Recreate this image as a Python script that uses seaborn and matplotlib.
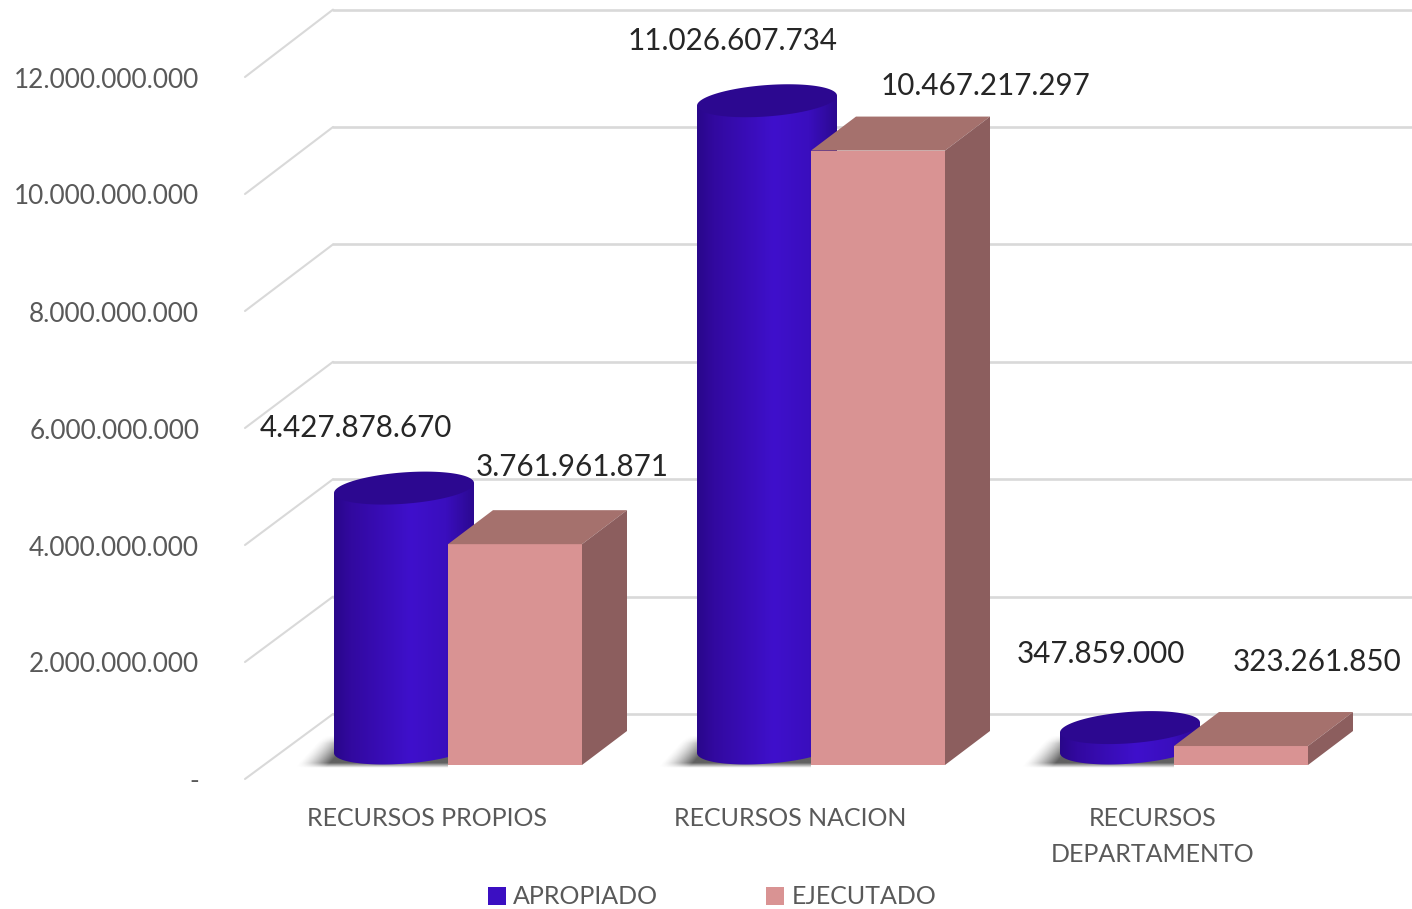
import numpy as np
import pandas as pd
import matplotlib
matplotlib.use("Agg")
import matplotlib.pyplot as plt
from matplotlib.colors import LinearSegmentedColormap
from matplotlib.patches import Polygon
import seaborn as sns

categories = ["RECURSOS PROPIOS", "RECURSOS NACION", "RECURSOS\nDEPARTAMENTO"]
apropiado = [4427878670, 11026607734, 347859000]
ejecutado = [3761961871, 10467217297, 323261850]
tick_values = [0, 2000000000, 4000000000, 6000000000, 8000000000, 10000000000, 12000000000]

# label offsets in pixels from the top of each bar
apropiado_off = [(-48, 60), (-34, 60), (-29, 74)]
ejecutado_off = [(57, 77), (107, 65), (76, 84)]

BLUE = "#3B0FC2"
PINK = "#D99393"
PINK_TOP = "#A5716D"
PINK_SIDE = "#8C5E5E"
GRID = "#D9D9D9"

sns.set_style("white")
plt.rcParams["font.family"] = ["Lato", "DejaVu Sans"]


def fmt(v):
    return f"{v:,}".replace(",", ".")


# pixel scales of the main axes
PX_X = 1 / 363
PX_Y = 1e9 / 58.7
DEPTH_X, DEPTH_Y = 45 * PX_X, 34 * PX_Y

fig = plt.figure(figsize=(14.12, 9.09), dpi=100)
ax = fig.add_axes([0, 109 / 909, 1, 800 / 909])

df = pd.DataFrame({
    "cat": categories * 2,
    "val": apropiado + ejecutado,
    "serie": ["APROPIADO"] * 3 + ["EJECUTADO"] * 3,
})
sns.barplot(data=df, x="cat", y="val", hue="serie", palette=[BLUE, PINK],
            width=222 / 363, gap=0, saturation=1, linewidth=0, ax=ax, zorder=5)

x0_lim, x1_lim = -459.5 * PX_X, (1412 - 459.5) * PX_X
y0_lim, y1_lim = -35 * PX_Y, 765 * PX_Y

# back wall and left wall
for v in tick_values:
    ax.plot([(333 - 459.5) * PX_X, x1_lim], [v + 51 * PX_Y] * 2, color=GRID, lw=1.9, zorder=1)
    ax.plot([(245 - 459.5) * PX_X, (333 - 459.5) * PX_X],
            [v * 58.5 / 58.7 - 14 * PX_Y, v + 51 * PX_Y], color=GRID, lw=1.5, zorder=1,
            clip_on=False)

cyl_cmap = LinearSegmentedColormap.from_list(
    "cyl", [(0, "#29078A"), (0.12, "#32099F"), (0.55, "#3F10CC"), (0.8, "#3A0EBE"), (1, "#2B0990")])

# soft shadow on the floor, u and v are pixels from the cylinder's left foot
shadow_u = np.linspace(-45, 114, 160)
shadow_v = np.linspace(-30, 3, 60)
uu, vv = np.meshgrid(shadow_u, shadow_v)
left_edge = -38 - vv * 0.9
shadow_a = np.clip((uu - left_edge) / 32, 0, 1) ** 1.5 * np.clip((3 - vv) / 5, 0, 1) * np.clip((vv + 30) / 8, 0, 1) * 0.8
shadow_rgba = np.zeros(uu.shape + (4,))
shadow_rgba[..., :3] = 0.22
shadow_rgba[..., 3] = shadow_a

# cylinders, drawn from the seaborn bars
t = np.linspace(0, 2 * np.pi, 200)
for bar, val, off in zip(ax.containers[0], apropiado, apropiado_off):
    cx = bar.get_x() + bar.get_width() / 2
    bar.set_alpha(0)
    rx = 70 * PX_X
    base = 17 * PX_Y
    top = base + val

    x_ring = cx + rx * np.cos(t)
    y_ring = (5 * np.cos(t) - 15.7 * np.sin(t)) * PX_Y
    lower = np.sin(t) >= 0

    body_x = np.r_[cx - rx, x_ring[lower][::-1], cx + rx]
    body_y = np.r_[top - 5 * PX_Y, base + y_ring[lower][::-1], top + 5 * PX_Y]

    im = ax.imshow(np.linspace(0, 1, 256).reshape(1, -1), cmap=cyl_cmap, aspect="auto",
                   extent=[cx - rx, cx + rx, -5 * PX_Y, top + 10 * PX_Y], zorder=3,
                   interpolation="bilinear")
    im.set_clip_path(Polygon(np.c_[body_x, body_y], closed=True, transform=ax.transData))
    ax.fill(x_ring, top + y_ring, color="#2C0890", lw=0, zorder=3.5)

    left = cx - rx
    ax.imshow(shadow_rgba, aspect="auto", origin="upper", zorder=2,
              extent=[left + shadow_u[0] * PX_X, left + shadow_u[-1] * PX_X,
                      -shadow_v[-1] * PX_Y, -shadow_v[0] * PX_Y])

    ax.annotate(fmt(val), (cx, top), xytext=off, textcoords="offset pixels",
                ha="center", va="center", fontsize=21.3, color="#262626", zorder=8)

# resize the boxes and add their top and side
for bar, val, off in zip(ax.containers[1], ejecutado, ejecutado_off):
    cx = bar.get_x() + bar.get_width() / 2
    w = 134 * PX_X
    bar.set_x(cx - w / 2)
    bar.set_width(w)
    l, r = cx - w / 2, cx + w / 2
    ax.add_patch(Polygon([(l, val), (l + DEPTH_X, val + DEPTH_Y), (r + DEPTH_X, val + DEPTH_Y), (r, val)],
                         closed=True, fc=PINK_TOP, lw=0, zorder=5))
    ax.add_patch(Polygon([(r, 0), (r + DEPTH_X, DEPTH_Y), (r + DEPTH_X, val + DEPTH_Y), (r, val)],
                         closed=True, fc=PINK_SIDE, lw=0, zorder=5))
    ax.annotate(fmt(val), (cx, val), xytext=off, textcoords="offset pixels",
                ha="center", va="center", fontsize=21.3, color="#262626", zorder=8)

ax.set_xlim(x0_lim, x1_lim)
ax.set_ylim(y0_lim, y1_lim)
ax.set_xlabel("")
ax.set_ylabel("")
ax.set_yticks([])
ax.set_xticks(np.arange(3) - 32.5 * PX_X)
ax.set_xticklabels(categories, fontsize=18, color="#595959", linespacing=1.7)
ax.tick_params(axis="x", length=0, pad=5)
sns.despine(ax=ax, left=True, bottom=True, top=True, right=True)

leg = ax.legend(loc="center", bbox_to_anchor=(712 / 1412, -97 / 800), ncol=2, frameon=False,
                fontsize=18, handlelength=0.72, handleheight=0.72, handletextpad=0.3,
                columnspacing=4.3, labelcolor="#595959", borderpad=0)

# value axis on the front edge of the left wall
ax_left = fig.add_axes([245 / 1412, (909 - 779.5) / 909, 0.01, 702 / 909], frameon=False)
ax_left.set_ylim(0, 12e9)
ax_left.set_xticks([])
ax_left.set_yticks(tick_values)
ax_left.set_yticklabels(["-"] + [fmt(v) for v in tick_values[1:]], fontsize=18.8, color="#595959")
ax_left.tick_params(axis="y", length=0, pad=33)

fig.savefig("out.png", dpi=100)
